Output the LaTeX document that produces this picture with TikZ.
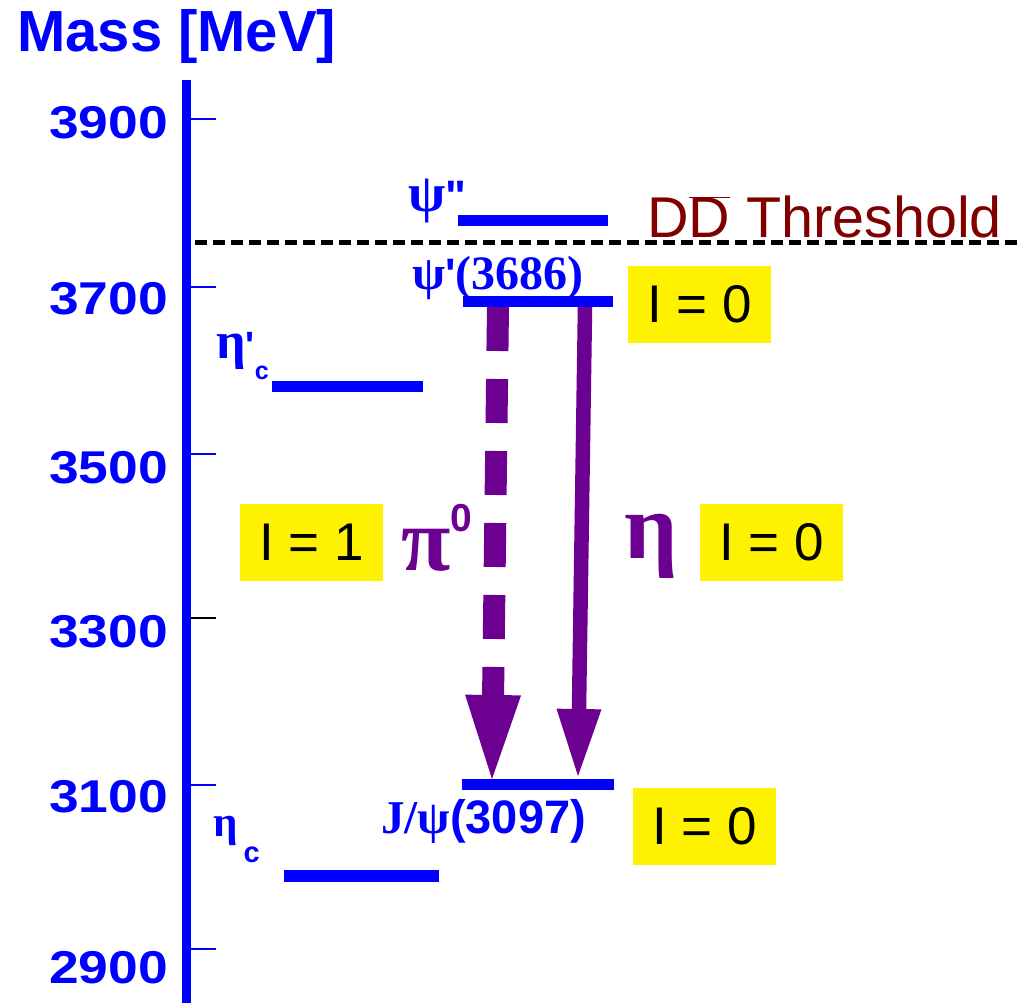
\documentclass[tikz,border=0pt]{standalone}
\usepackage{graphicx}
\usepackage{fontspec}
\setmainfont{Liberation Sans}
\newfontfamily\grk{Liberation Serif}
\newfontfamily\prm{Liberation Sans}
\usetikzlibrary{arrows.meta}
\definecolor{arrowpurple}{RGB}{107,0,145}
\definecolor{thrred}{RGB}{128,0,0}
\begin{document}
\begin{tikzpicture}[x=1pt,y=-1pt,
  lvl/.style={fill=blue, inner sep=0pt, minimum height=11pt},
  isobox/.style={fill=yellow, inner sep=0pt, minimum width=143pt, minimum height=77pt,
    text=black, font=\fontsize{53}{53}\selectfont},
  axlab/.style={anchor=east, text=blue, inner sep=0pt, font=\fontsize{46}{46}\selectfont\bfseries},
  axtick/.style={blue, line width=2pt},
  lab/.style={text=blue, inner sep=0pt, anchor=base west},
  decay/.style={arrowpurple}
]
\useasboundingbox (0,0) rectangle (1020,1003);

% title
\node[lab, font=\fontsize{58}{58}\selectfont\bfseries] (title) at (17,52) {Mass [MeV]};

% axis
\coordinate (axtop) at (186.5,80);
\coordinate (axbot) at (186.5,1003);
\draw[blue, line width=9pt] (axtop) -- (axbot);
\foreach \yy/\ly/\txt in {119/123/3900, 287/299/3700, 454/468/3500, 785/797/3100, 949/968/2900}{
  \draw[axtick] (190,\yy) -- (216,\yy);
  \node[axlab] at (168,\ly) {\scalebox{1.16}[1]{\txt}};
}
\draw[black, line width=2pt] (190,618) -- (216,618);
\node[axlab] at (168,632) {\scalebox{1.16}[1]{3300}};

% threshold
\coordinate (thrL) at (195,243);
\coordinate (thrR) at (1020,243);
\draw[black, line width=5pt, dash pattern=on 12pt off 6pt] (thrL) -- (thrR);
\node[anchor=base west, inner sep=0pt, text=thrred, font=\fontsize{57.5}{57.5}\selectfont] (thr) at (647,238)
  {D$\overline{\mbox{D}}$ Threshold};

% levels
\node[lvl, minimum width=150pt] (psi2) at (533,221) {};
\node[lvl, minimum width=150pt] (psi1) at (538,301) {};
\node[lvl, minimum width=151pt] (etac2) at (347,386.5) {};
\node[lvl, minimum width=152pt] (jpsi) at (538,784.5) {};
\node[lvl, minimum width=155pt, minimum height=12pt] (etac) at (361.5,876) {};

% level labels
\node[lab, font=\fontsize{54}{54}\selectfont\bfseries] (psi2lab) at (408,212) {{\grk ψ}{\fontsize{44}{44}\selectfont\prm "}};
\node[lab, font=\fontsize{48}{48}\selectfont\bfseries] (psi1lab) at (412,289) {{\grk ψ}{\fontsize{44}{44}\selectfont\prm '}{\grk (3686)}};
\node[lab, font=\fontsize{52}{52}\selectfont\bfseries] (etac2lab) at (216,358)
  {{\grk η}{\fontsize{38}{38}\selectfont\prm '}\raisebox{-21pt}{\fontsize{25}{25}\selectfont c}};
\node[lab, font=\fontsize{43}{43}\selectfont\bfseries] (etaclab) at (213,836)
  {{\grk η}\hspace{6pt}\raisebox{-26pt}{\fontsize{29}{29}\selectfont c}};
\node[lab, font=\fontsize{47}{47}\selectfont\bfseries] (jpsilab) at (381,833) {{\grk J/ψ}(3097)};

% isospin boxes
\node[isobox] (i0a) at (699.5,304) {I = 0};
\node[isobox] (i1) at (311.5,542.5) {I = 1};
\node[isobox] (i0b) at (771.5,542.5) {I = 0};
\node[isobox] (i0c) at (704.5,826) {I = 0};

% decay arrows
\coordinate (pis) at (498,307);
\coordinate (pie) at (492,779);
\coordinate (ets) at (585,307);
\coordinate (ete) at (578,776);
\draw[decay, line width=22pt, dash pattern=on 44pt off 28pt,
  -{Triangle[width=56pt,length=84pt,line width=0pt]}] (pis) -- (pie);
\draw[decay, line width=14.5pt,
  -{Triangle[width=45pt,length=67pt,line width=0pt]}] (ets) -- (ete);

\node[anchor=base west, inner sep=0pt, text=arrowpurple, font=\fontsize{90}{90}\selectfont\bfseries] (pilab) at (401,570)
  {{\grk π}\raisebox{39pt}{\fontsize{39}{39}\selectfont 0}};
\node[inner sep=0pt, text=arrowpurple, font=\fontsize{94}{94}\selectfont\bfseries\grk] (etalab) at (651,546) {η};
\end{tikzpicture}
\end{document}
